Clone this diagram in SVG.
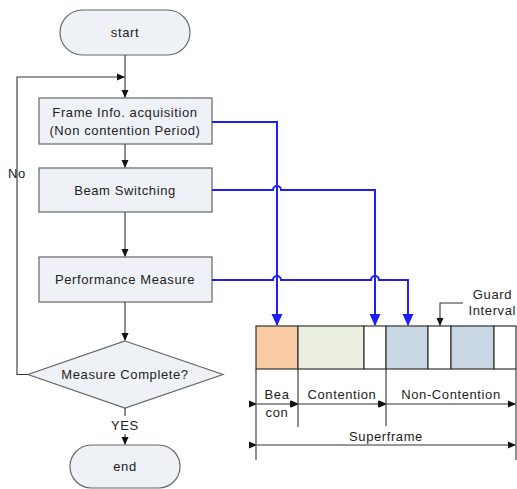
<svg xmlns="http://www.w3.org/2000/svg" width="517" height="489" viewBox="0 0 517 489">
<style>
text{font-family:"Liberation Sans",Arial,sans-serif;font-size:13px;letter-spacing:0.6px;fill:#222}
.c{text-anchor:middle}
.nd{fill:#EEF1F5;stroke:#666;stroke-width:1.2}
.k{fill:none;stroke:#333;stroke-width:1.1}
.b{fill:none;stroke:#1F1FF5;stroke-width:2}
.fr{stroke:#333;stroke-width:1.2}
</style>
<defs>
<marker id="ak" markerWidth="8" markerHeight="8" refX="7" refY="4" orient="auto" markerUnits="userSpaceOnUse"><path d="M0,0.5 L8,4 L0,7.5 Z" fill="#111"/></marker>
<marker id="ab" markerWidth="12" markerHeight="12" refX="11" refY="6" orient="auto" markerUnits="userSpaceOnUse"><path d="M0,0.5 L12,6 L0,11.5 Z" fill="#1F1FF5"/></marker>
<marker id="as" markerWidth="8" markerHeight="8" refX="0" refY="4" orient="auto-start-reverse" markerUnits="userSpaceOnUse"><path d="M8,0.5 L0,4 L8,7.5 Z" fill="#111"/></marker>
</defs>
<g id="start"><rect class="nd" x="60" y="10" width="130" height="45" rx="22.5"/><text class="c" x="125" y="37">start</text></g>
<g id="frameinfo"><rect class="nd" x="39" y="98" width="173" height="46"/><text class="c" x="125" y="117">Frame Info. acquisition</text><text class="c" x="125" y="135">(Non contention Period)</text></g>
<g id="beam"><rect class="nd" x="39" y="168" width="173" height="44"/><text class="c" x="125" y="195">Beam Switching</text></g>
<g id="perf"><rect class="nd" x="39" y="257" width="173" height="45"/><text class="c" x="125" y="284">Performance Measure</text></g>
<g id="decision"><polygon class="nd" points="125,341 223,374.5 125,408 28,374.5"/><text class="c" x="125" y="379">Measure Complete?</text></g>
<g id="end"><rect class="nd" x="70" y="445" width="110" height="43" rx="21.5"/><text class="c" x="125" y="471">end</text></g>
<g id="connectors">
<line class="k" x1="125" y1="55" x2="125" y2="97" marker-end="url(#ak)"/>
<polyline class="k" points="28,374.5 17,374.5 17,77 124,77" marker-end="url(#ak)"/>
<line class="k" x1="125" y1="144" x2="125" y2="167" marker-end="url(#ak)"/>
<line class="k" x1="125" y1="212" x2="125" y2="256" marker-end="url(#ak)"/>
<line class="k" x1="125" y1="302" x2="125" y2="340" marker-end="url(#ak)"/>
<line class="k" x1="125" y1="408" x2="125" y2="416"/>
<line class="k" x1="125" y1="434" x2="125" y2="444" marker-end="url(#ak)"/>
<path class="b" d="M212,122 H277 V325" marker-end="url(#ab)"/>
<path class="b" d="M212,190 H273 A4,4 0 0 1 281,190 H375 V325" marker-end="url(#ab)"/>
<path class="b" d="M212,280 H273 A4,4 0 0 1 281,280 H371 A4,4 0 0 1 379,280 H408 V325" marker-end="url(#ab)"/>
<polyline class="k" points="463,303 440,303 440,325" marker-end="url(#ak)"/>
</g>
<text x="8" y="178">No</text>
<text class="c" x="125" y="430">YES</text>
<g id="superframe">
<rect class="fr" x="256" y="326" width="42" height="43" fill="#F8CBA5"/>
<rect class="fr" x="298" y="326" width="66" height="43" fill="#EBEFDF"/>
<rect class="fr" x="364" y="326" width="22" height="43" fill="#fff"/>
<rect class="fr" x="386" y="326" width="42" height="43" fill="#C9D6E4"/>
<rect class="fr" x="428" y="326" width="23" height="43" fill="#fff"/>
<rect class="fr" x="451" y="326" width="43" height="43" fill="#C9D6E4"/>
<rect class="fr" x="494" y="326" width="22" height="43" fill="#fff"/>
<g class="k">
<line x1="256" y1="369" x2="256" y2="460"/>
<line x1="298" y1="369" x2="298" y2="427"/>
<line x1="386" y1="369" x2="386" y2="426"/>
<line x1="516" y1="369" x2="516" y2="460"/>
<line x1="257" y1="404" x2="297" y2="404" marker-start="url(#as)" marker-end="url(#ak)"/>
<line x1="299" y1="404" x2="385" y2="404" marker-start="url(#as)" marker-end="url(#ak)"/>
<line x1="387" y1="404" x2="515" y2="404" marker-start="url(#as)" marker-end="url(#ak)"/>
<line x1="257" y1="445" x2="515" y2="445" marker-start="url(#as)" marker-end="url(#ak)"/>
</g>
<text class="c" x="277" y="399">Bea</text>
<text class="c" x="277" y="417">con</text>
<text class="c" x="342" y="399">Contention</text>
<text class="c" x="451" y="399">Non-Contention</text>
<text class="c" x="386" y="441">Superframe</text>
<text x="512" y="299" text-anchor="end">Guard</text>
<text x="516" y="315" text-anchor="end">Interval</text>
</g>
</svg>
